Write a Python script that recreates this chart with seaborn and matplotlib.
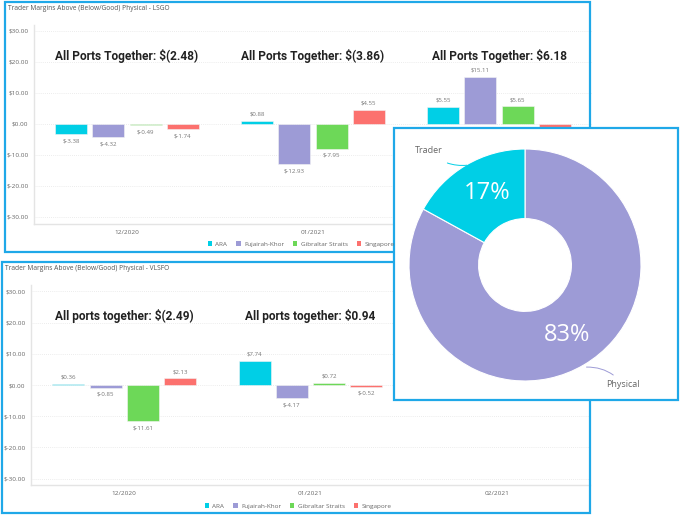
import matplotlib
matplotlib.use("Agg")
import matplotlib.pyplot as plt
import seaborn as sns
import pandas as pd
from matplotlib.patches import Rectangle, Patch
from matplotlib.ticker import FuncFormatter

# Data
months = ["12/2020", "01/2021", "02/2021"]
ports = ["ARA", "Fujairah-Khor", "Gibraltar Straits", "Singapore"]
port_colors = ["#00CFE6", "#9D9BD6", "#6DD858", "#FC716E"]

lsgo_months = ["12/2020"] * 4 + ["01/2021"] * 4 + ["02/2021"] * 4
lsgo_ports = ports * 3
lsgo_values = [-3.38, -4.32, -0.49, -1.74,
               0.88, -12.93, -7.95, 4.55,
               5.55, 15.11, 5.65, -1.59]
lsgo_totals = ["$(2.48)", "$(3.86)", "$6.18"]

vlsfo_months = ["12/2020"] * 4 + ["01/2021"] * 4
vlsfo_ports = ports * 2
vlsfo_values = [0.36, -0.85, -11.61, 2.13,
                7.74, -4.17, 0.72, -0.52]
vlsfo_totals = ["$(2.49)", "$0.94"]

split_labels = ["Physical", "Trader"]
split_values = [83, 17]
split_colors = ["#9D9BD6", "#00CFE6"]

sns.set_theme(style="white")
plt.rcParams["font.family"] = ["Open Sans", "DejaVu Sans"]

W, H = 680, 515
fig = plt.figure(figsize=(W / 100, H / 100), dpi=100)
fig.patch.set_facecolor("white")


def box(x0, y0, x1, y1):
    return [x0 / W, 1 - y1 / H, (x1 - x0) / W, (y1 - y0) / H]


def frame(x0, y0, x1, y1, z, fill=False):
    r = Rectangle((x0 / W, 1 - y1 / H), (x1 - x0) / W, (y1 - y0) / H,
                  transform=fig.transFigure, facecolor="white", fill=fill,
                  edgecolor="#1FA8E8", linewidth=1.6, zorder=z)
    fig.add_artist(r)


def bar_panel(rect, ylim, df, totals, title_text, heading, title_xy, legend_xy):
    ax = fig.add_axes(box(*rect))
    ax.set_facecolor("none")
    sns.barplot(data=df, x="month", y="value", hue="port", order=months,
                hue_order=ports, palette=port_colors, saturation=1, gap=0.14,
                edgecolor="#f4f4f4", linewidth=0.4, legend=False, ax=ax)
    ax.set_xlim(-0.5, 2.5)
    ax.set_ylim(*ylim)
    ax.set_yticks(range(-30, 31, 10))
    ax.yaxis.set_major_formatter(FuncFormatter(lambda v, p: f"${v:.2f}"))
    ax.tick_params(axis="both", labelsize=4.6, labelcolor="#666666", length=0, pad=4)
    ax.set_xlabel("")
    ax.set_ylabel("")
    ax.grid(axis="y", color="#e6e6e6", linestyle=(0, (1, 1.5)), linewidth=0.6)
    for side in ["top", "right"]:
        ax.spines[side].set_visible(False)
    for side in ["left", "bottom"]:
        ax.spines[side].set_color("#e4e4e4")
        ax.spines[side].set_linewidth(1)
    for cont in ax.containers:
        ax.bar_label(cont, fmt="${:.2f}", fontsize=4.4, color="#777777", padding=3)
    for i, t in enumerate(totals):
        ax.text(i, 22, f"{heading}: {t}", ha="center", va="center",
                fontsize=8.6, fontweight="bold", color="#222222",
                family=["Liberation Sans Narrow", "Roboto", "DejaVu Sans"])
    fig.text(title_xy[0] / W, 1 - title_xy[1] / H, title_text, fontsize=4.8,
             color="#555555", va="center", ha="left")
    handles = [Patch(facecolor=c, edgecolor="none") for c in port_colors]
    fig.legend(handles, ports, loc="center", ncol=4, frameon=False,
               bbox_to_anchor=(legend_xy[0] / W, 1 - legend_xy[1] / H),
               fontsize=4.6, labelcolor="#666666", handlelength=0.7,
               handleheight=0.7, handletextpad=0.5, columnspacing=1.4)
    return ax


lsgo = pd.DataFrame({"month": lsgo_months, "port": lsgo_ports, "value": lsgo_values})
vlsfo = pd.DataFrame({"month": vlsfo_months, "port": vlsfo_ports, "value": vlsfo_values})

frame(5, 2, 590, 252, 1)
bar_panel((34, 25, 592, 224), (-32.3, 31.9), lsgo, lsgo_totals,
          "Trader Margins Above (Below/Good) Physical - LSGO",
          "All Ports Together", (8, 8), (301, 244))

frame(2, 262, 590, 513, 1)
bar_panel((31, 285, 590, 485), (-32.05, 32.05), vlsfo, vlsfo_totals,
          "Trader Margins Above (Below/Good) Physical - VLSFO",
          "All ports together", (5, 268), (298, 506))

# Donut panel on top
frame(394, 128, 678, 400, 5, fill=True)
axd = fig.add_axes(box(409, 149, 641, 381), zorder=6)
axd.set_facecolor("none")
axd.pie(split_values, colors=split_colors, startangle=90, counterclock=False,
        radius=1, wedgeprops=dict(width=0.6, edgecolor="white", linewidth=0.8))
axd.set_xlim(-1, 1)
axd.set_ylim(-1, 1)
axd.set_aspect("equal")
axd.axis("off")
axd.text(0.36, -0.60, f"{split_values[0]}%", color="white", fontsize=17,
         ha="center", va="center")
axd.text(-0.33, 0.62, f"{split_values[1]}%", color="white", fontsize=17,
         ha="center", va="center")
axd.annotate(split_labels[1], xy=(-0.50, 0.86), xytext=(-0.83, 0.99),
             fontsize=6.5, color="#666666", ha="center", va="center",
             annotation_clip=False,
             arrowprops=dict(arrowstyle="-", color="#00CFE6", lw=0.7,
                             connectionstyle="arc3,rad=0.25", shrinkA=8, shrinkB=0))
axd.annotate(split_labels[0], xy=(0.53, -0.88), xytext=(0.70, -1.03),
             fontsize=6.5, color="#666666", ha="left", va="center",
             annotation_clip=False,
             arrowprops=dict(arrowstyle="-", color="#9D9BD6", lw=0.7,
                             connectionstyle="arc3,rad=0.25", shrinkA=2, shrinkB=0))

fig.savefig("out.png", dpi=100)
